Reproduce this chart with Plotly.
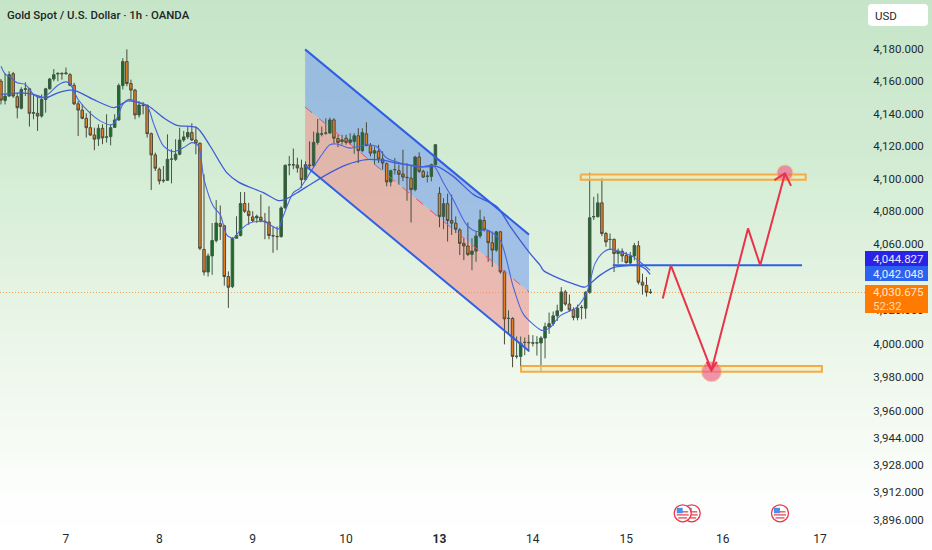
import plotly.graph_objects as go

# ---------- candle data (1h, index = bar number) ----------
open_ = [4160.1,4148.2,4150.9,4164.8,4150.5,4143.3,4155.0,4155.4,4140.2,4140.2,4138.5,4148.8,4155.4,4161.5,4164.6,4165.0,4164.8,4164.2,4157.6,4146.1,
4142.2,4137.1,4131.3,4126.8,4124.4,4130.9,4125.4,4125.8,4131.5,4136.1,4157.4,4172.4,4158.7,4154.6,4139.2,4145.3,4145.1,4127.6,4114.5,4105.7,
4098.5,4098.9,4111.8,4111.8,4114.9,4123.7,4125.6,4128.3,4123.7,4121.7,4056.7,4043.0,4052.8,4062.1,4072.4,4071.1,4040.3,4034.2,4063.5,4065.2,
4084.7,4080.0,4076.5,4075.9,4076.3,4073.9,4073.4,4065.1,4064.6,4064.5,4082.0,4108.3,4108.5,4108.3,4106.4,4099.3,4108.3,4107.9,4122.2,4127.3,
4127.9,4128.0,4136.1,4124.6,4122.8,4124.8,4122.2,4122.8,4126.3,4117.1,4127.5,4120.3,4115.6,4116.7,4112.0,4109.1,4097.9,4105.3,4104.8,4102.8,
4100.7,4100.3,4093.2,4113.2,4104.4,4101.3,4101.3,4108.5,4090.9,4076.8,4084.6,4074.3,4072.7,4068.6,4060.4,4058.8,4053.7,4055.7,4064.9,4074.3,
4068.0,4060.8,4056.3,4067.4,4043.1,4015.0,4015.0,3992.3,3992.3,4000.6,4000.7,4000.2,4000.3,4000.3,4003.3,4009.9,4011.9,4016.6,4019.6,4031.0,
4023.7,4020.2,4015.6,4021.5,4021.2,4030.8,4076.5,4076.6,4085.1,4066.4,4062.7,4062.8,4054.2,4055.6,4053.0,4048.5,4052.8,4058.9,4036.9,4034.9,4030.8]
high = [4161.5,4165.2,4166.3,4165.9,4152.9,4156.4,4159.5,4156.0,4151.9,4150.9,4151.9,4156.0,4162.2,4167.7,4165.7,4165.7,4168.7,4165.2,4159.1,4147.8,
4145.7,4140.2,4141.6,4131.3,4133.4,4133.4,4139.6,4133.4,4139.6,4158.7,4174.5,4180.0,4161.1,4155.4,4147.8,4147.2,4145.7,4128.3,4115.9,4106.7,
4107.7,4127.2,4118.0,4124.2,4131.3,4129.3,4132.0,4134.0,4132.0,4122.1,4102.6,4054.3,4072.8,4086.8,4083.5,4071.7,4043.4,4064.2,4076.9,4091.7,
4091.7,4085.1,4080.0,4077.9,4090.2,4078.9,4083.0,4070.7,4070.7,4083.0,4108.7,4113.9,4118.4,4112.8,4111.6,4110.5,4122.8,4128.9,4136.7,4132.0,
4137.1,4137.5,4137.1,4126.9,4126.9,4126.9,4127.9,4127.9,4131.0,4131.0,4134.7,4121.8,4119.7,4120.8,4116.7,4109.9,4105.4,4112.6,4108.5,4117.7,
4109.5,4108.5,4114.0,4116.1,4105.4,4104.4,4109.1,4121.2,4094.8,4088.0,4090.7,4090.1,4076.8,4069.6,4063.5,4073.1,4063.5,4067.6,4080.9,4076.8,
4068.6,4067.6,4068.0,4068.0,4044.1,4019.9,4015.8,4004.2,4004.2,4003.6,4005.2,4005.0,4004.4,4004.4,4012.5,4018.6,4019.2,4023.3,4033.9,4032.2,
4029.4,4021.7,4023.3,4023.1,4031.4,4103.5,4088.8,4090.8,4100.4,4067.4,4066.4,4063.4,4057.3,4057.3,4055.2,4055.2,4060.7,4061.9,4042.0,4040.0,4032.8]
low = [4145.7,4145.7,4150.5,4149.8,4137.1,4142.6,4150.9,4132.0,4136.5,4129.3,4137.5,4140.6,4155.0,4160.1,4160.1,4161.1,4164.2,4157.0,4145.3,4126.2,
4136.5,4125.2,4126.2,4117.4,4120.0,4121.1,4122.1,4120.4,4131.3,4135.5,4155.0,4157.0,4147.8,4136.5,4137.5,4139.6,4125.2,4092.9,4104.6,4096.4,
4097.4,4098.5,4097.0,4110.8,4114.3,4122.5,4124.2,4123.1,4114.9,4056.3,4040.9,4040.3,4041.3,4060.9,4062.5,4034.8,4021.4,4033.3,4063.5,4064.6,
4078.9,4071.7,4073.2,4072.8,4073.2,4062.9,4062.9,4054.7,4056.3,4063.9,4081.4,4102.0,4105.7,4103.6,4094.2,4098.9,4106.4,4107.1,4120.8,4125.9,
4126.9,4127.5,4121.8,4119.3,4120.8,4120.8,4120.8,4115.2,4109.5,4116.1,4119.7,4113.6,4108.5,4109.5,4105.4,4095.2,4095.2,4102.4,4096.2,4098.3,
4086.4,4073.1,4092.1,4103.4,4100.3,4097.6,4098.3,4107.9,4070.2,4069.0,4061.5,4065.5,4066.6,4053.3,4050.2,4052.7,4044.1,4049.2,4063.5,4067.6,
4049.2,4046.1,4055.3,4042.0,3999.5,4005.2,3985.8,3990.9,3985.8,3993.0,3995.0,3998.2,3992.8,3983.0,3991.1,4005.8,4010.5,4013.5,4019.0,4022.7,
4019.2,4013.9,4013.9,4014.5,4014.9,4029.8,4074.6,4076.2,4064.8,4058.3,4056.3,4043.0,4048.1,4049.1,4048.1,4047.7,4050.1,4035.5,4029.4,4028.2,4029.8]
close = [4148.4,4150.9,4164.2,4150.9,4143.7,4155.0,4155.4,4140.2,4140.6,4138.5,4148.8,4155.4,4161.5,4164.2,4165.0,4164.8,4165.2,4157.6,4146.1,4142.2,
4137.1,4131.3,4126.8,4124.2,4130.9,4125.0,4125.6,4131.3,4136.1,4157.4,4172.4,4158.7,4154.6,4139.2,4145.3,4145.1,4127.6,4114.5,4106.3,4098.5,
4098.9,4111.8,4111.9,4114.9,4123.7,4125.6,4128.3,4123.7,4121.7,4057.4,4043.0,4052.8,4062.1,4072.8,4070.7,4040.3,4033.8,4063.5,4065.2,4084.7,
4080.0,4077.3,4074.2,4076.9,4074.2,4073.6,4065.2,4065.0,4064.5,4082.0,4108.1,4108.5,4108.4,4106.5,4099.3,4108.5,4107.9,4122.2,4127.9,4127.5,
4128.0,4136.1,4124.8,4122.2,4123.8,4122.2,4123.8,4126.3,4117.1,4128.3,4120.3,4115.6,4117.1,4112.0,4109.5,4097.9,4104.8,4105.5,4102.6,4100.9,
4100.6,4093.2,4113.2,4104.4,4100.9,4101.5,4108.5,4120.8,4076.8,4084.6,4074.3,4072.7,4069.0,4060.4,4058.8,4053.7,4055.7,4064.9,4074.7,4068.6,
4060.8,4056.3,4067.4,4043.1,4014.8,4015.1,3992.3,3992.4,4000.1,4000.7,4000.5,4000.4,4000.4,4003.3,4010.1,4011.9,4016.6,4019.6,4031.0,4023.7,
4020.2,4015.6,4021.2,4021.7,4030.8,4076.0,4076.7,4085.1,4066.4,4061.3,4062.8,4054.2,4055.8,4052.8,4048.7,4052.8,4059.1,4036.9,4035.1,4030.8,4030.7]
bars = list(range(len(close)))

# ---------- moving averages ----------
fast_x = [0,1,2,4,6,8,10,12,14,16,17,19,22,24.4,27,28,30,31.4,33,36,37.5,40,42.4,45,47,48.6,50,52.3,54,55.6,57.2,59,61.3,64.6,67,68.3,69.5,72,73.6,
76.1,79,81,82.7,86,90,92.5,95,99,103.2,106.5,109,111.4,114.7,117.2,119.6,122.9,126.2,128.7,132.8,
133.6,135.2,137.7,140.2,141.8,144.3,146.3,148,150,152.5,155.8,157.4,159.9]
fast_y = [4169.4,4164.6,4163.2,4159.1,4158.1,4151.9,4149.8,4152.9,4157.6,4159.7,4158.5,4148.8,4140.2,4135.5,4133.0,4134.4,4145.7,4148.8,4147.8,4144.7,4134.4,4120.0,4116.5,4119.0,4122.1,4120.0,4099.5,4083.0,4077.9,4065.6,4063.5,4068.7,4072.8,4073.8,4070.7,4069.1,4076.9,4091.3,4094.0,
4103.4,4114.6,4120.8,4121.2,4118.7,4120.8,4119.7,4112.6,4109.1,4107.1,4107.9,4097.2,4087.0,4071.7,4067.6,4068.6,4062.5,4033.8,4017.5,4008.3,
4007.8,4009.4,4016.6,4019.6,4021.7,4030.8,4048.1,4054.2,4056.9,4055.2,4052.2,4049.1,4044.0]
slow_x = [0,5,8,11,14,17,18.6,22.7,27.7,28.9,31,33.4,36.3,40,43.3,48.2,51.5,55.6,58.5,64.6,68.3,70,73.6,
76.1,80.2,85.2,90,94.2,98.3,104,107.3,111.4,116.4,122.1,125.4,130.3,
132.8,133.6,137.7,141,143.8,145.5,147.5,150.8,154.9,157,158.6,159.9]
slow_y = [4151.9,4152.9,4151.9,4149.8,4152.9,4154.6,4154.0,4148.8,4143.7,4144.7,4147.8,4147.2,4144.7,4137.5,4132.8,4131.3,4120.0,4103.6,4097.8,4091.3,4086.5,4087.2,4092.3,
4096.2,4102.4,4108.5,4111.6,4111.1,4109.1,4107.1,4107.5,4101.3,4090.1,4082.9,4070.7,4054.3,
4047.1,4044.0,4038.9,4035.9,4033.9,4036.9,4041.0,4045.7,4047.1,4047.1,4045.1,4041.6]

# ---------- drawings ----------
channel_x = [74.9, 130.05]
channel_top = [4180.0, 4065.7]
channel_mid = [4144.1, 4031.0]
channel_bot = [4108.0, 3995.5]
zone_hi_x = [142.8, 198.2]
zone_hi_y = [4102.5, 4099.2]
zone_lo_x = [128.1, 202.2]
zone_lo_y = [3986.5, 3983.2]
level_x = [150.7, 197.3]
level_y = [4047.1, 4047.1]
path_x = [163, 165, 175, 184, 187, 193.1]
path_y = [4027.1, 4047.1, 3984.0, 4069.5, 4047.1, 4103.1]
arrow_top_x = [190.5, 193.1, 194.6]
arrow_top_y = [4099.0, 4103.1, 4095.5]
arrow_bot_x = [173.8, 175, 176.3]
arrow_bot_y = [3989.1, 3984.0, 3989.1]
target_x = [175, 193.1]
target_y = [3983.2, 4103.4]
target_size = [20, 16]

last_price = 4030.675
# ---------- axis labels ----------
y_ticks = [4180,4160,4140,4120,4100,4080,4060,4020,4000,3980,3960,3944,3928,3912,3896]
y_labels = [f"{v:,.3f}" for v in y_ticks]
x_ticks = [16, 39, 62, 85, 108, 131, 154, 177.8, 201.7]
x_labels = ["7", "8", "9", "10", "<b>13</b>", "14", "15", "16", "17"]

W, H = 932, 550
FONT = "Roboto"
INK = "#1f2a2c"
px = lambda x: x / W
py = lambda y: 1 - y / H

fig = go.Figure()
shapes = []

# gradient background
stops = [(0, (198, 229, 200)), (150, (209, 235, 210)), (300, (230, 244, 228)), (400, (242, 249, 240)), (500, (253, 254, 253)), (550, (255, 255, 255))]
def bg(y):
    for (a, ca), (b, cb) in zip(stops, stops[1:]):
        if a <= y <= b:
            t = (y - a) / (b - a)
            return tuple(round(p + (q - p) * t) for p, q in zip(ca, cb))
    return stops[-1][1]
for y in range(0, H, 5):
    c = bg(y + 2.5)
    shapes.append(dict(type="rect", xref="paper", yref="paper", x0=0, x1=1, y0=py(y + 5), y1=py(y), layer="below",
                       fillcolor=f"rgb{c}", line=dict(width=0)))

# channel fills under the candles
def band(x, a, b):
    return f"M{x[0]},{a[0]} L{x[1]},{a[1]} L{x[1]},{b[1]} L{x[0]},{b[0]} Z"
shapes.append(dict(type="path", xref="x", yref="y", layer="below", path=band(channel_x, channel_top, channel_mid),
                   fillcolor="rgba(120,160,235,0.60)", line=dict(width=0)))
shapes.append(dict(type="path", xref="x", yref="y", layer="below", path=band(channel_x, channel_mid, channel_bot),
                   fillcolor="rgba(240,130,130,0.50)", line=dict(width=0)))

# last price dotted line
shapes.append(dict(type="line", xref="paper", yref="y", x0=0, x1=px(868), y0=last_price, y1=last_price, layer="below",
                   line=dict(color="#f5a050", width=1, dash="1px,2px")))

fig.add_trace(go.Candlestick(x=bars, open=open_, high=high, low=low, close=close, whiskerwidth=0,
    increasing=dict(fillcolor="#1c6b2a", line=dict(color="#3f5a45", width=1)),
    decreasing=dict(fillcolor="#e07f26", line=dict(color="#4c4a3c", width=1)),
    hoverinfo="skip", showlegend=False))

def line(x, y, color, width, dash=None, shape=None, fill=None, fillcolor=None):
    fig.add_trace(go.Scatter(x=x, y=y, mode="lines", hoverinfo="skip", showlegend=False, fill=fill, fillcolor=fillcolor,
                             line=dict(color=color, width=width, dash=dash, shape=shape, smoothing=0.8 if shape else None)))

line(slow_x, slow_y, "#3f5bd6", 1.3, shape="spline")
line(fast_x, fast_y, "#4a66de", 1.1, shape="spline")
line(channel_x, channel_top, "#2f5fe6", 2)
line(channel_x, channel_bot, "#2f5fe6", 2)
line(channel_x, channel_mid, "#e8506a", 1, dash="dash")

for zx, zy in [(zone_hi_x, zone_hi_y), (zone_lo_x, zone_lo_y)]:
    line([zx[0], zx[1], zx[1], zx[0], zx[0]], [zy[0], zy[0], zy[1], zy[1], zy[0]], "#f4ab45", 2,
         fill="toself", fillcolor="rgba(250,235,170,0.55)")

line(level_x, level_y, "#2e62e0", 2)
fig.add_trace(go.Scatter(x=target_x, y=target_y, mode="markers", hoverinfo="skip", showlegend=False,
                         marker=dict(size=target_size, color="rgba(238,92,140,0.92)", line=dict(color="#f9c069", width=1))))
line(path_x, path_y, "#e8334a", 2)
line(arrow_top_x, arrow_top_y, "#e8334a", 2)
line(arrow_bot_x, arrow_bot_y, "#e8334a", 2)

# price labels at right (drawn over the axis)
def box(y0, y1, color, x0=865, x1=928):
    shapes.append(dict(type="rect", xref="paper", yref="paper", x0=px(x0), x1=px(x1), y0=py(y1), y1=py(y0), layer="above",
                       fillcolor=color, line=dict(width=0)))
box(251, 266, "#2a22e6")
box(266, 281, "#2b62f0")
box(285, 313, "#ff7a00")
# USD button (rounded)
r, a, b, c, d = 4, px(868), px(928), py(26), py(4)
rx, ry = r / W, r / H
shapes.append(dict(type="path", xref="paper", yref="paper", layer="above", fillcolor="#ffffff", line=dict(width=0),
    path=f"M{a+rx},{d} L{b-rx},{d} Q{b},{d} {b},{d-ry} L{b},{c+ry} Q{b},{c} {b-rx},{c} L{a+rx},{c} Q{a},{c} {a},{c+ry} L{a},{d-ry} Q{a},{d} {a+rx},{d} Z"))

# event flags
event_px = [691.7, 682.7, 780.0]
for cx in event_px:
    cy = 513.3
    R = 8.5
    shapes.append(dict(type="circle", xref="paper", yref="paper", layer="above", x0=px(cx - R), x1=px(cx + R), y0=py(cy + R), y1=py(cy - R),
                       fillcolor="#ffffff", line=dict(color="#e5394a", width=1.3)))
    for dy, half in [(-1.5, 5.5), (1.6, 6), (4.6, 4.5)]:
        shapes.append(dict(type="line", xref="paper", yref="paper", layer="above", x0=px(cx - half), x1=px(cx + half), y0=py(cy + dy), y1=py(cy + dy),
                           line=dict(color="#e5606c", width=1.5)))
    shapes.append(dict(type="rect", xref="paper", yref="paper", layer="above", x0=px(cx - 6), x1=px(cx), y0=py(cy), y1=py(cy - 5.5),
                       fillcolor="#4a90e8", line=dict(width=0)))

def text(x, y, s, color=INK, size=11.5, anchor="left", weight=None):
    fig.add_annotation(xref="paper", yref="paper", x=px(x), y=py(y), text=s, showarrow=False, xanchor=anchor, yanchor="middle",
                       borderpad=0, borderwidth=0,
                       font=dict(family=FONT, size=size, color=color, weight=weight))

text(6.5, 14.5, "Gold Spot / U.S. Dollar · 1h · OANDA", size=11.4, weight=500, color="#1c2526")
text(875, 15.5, "USD", size=11.5)
text(872.5, 258.5, "4,044.827", color="#e8e8ff")
text(872.5, 273.5, "4,042.048", color="#e8eeff")
text(872.5, 291.5, "4,030.675", color="#ffe6cc")
text(872.5, 305.5, "52:32", color="#ffd9b0")

fig.update_layout(
    width=W, height=H, margin=dict(l=0, r=0, t=0, b=0, pad=0), showlegend=False, boxgap=0.12,
    paper_bgcolor="#ffffff", plot_bgcolor="rgba(0,0,0,0)", shapes=shapes,
    font=dict(family=FONT, size=12, color=INK),
    xaxis=dict(domain=[0, 868 / W], range=[-0.25, 213.55], rangeslider=dict(visible=False), showgrid=False, zeroline=False, automargin=False,
               showline=False, tickmode="array", tickvals=x_ticks, ticktext=x_labels, ticks="outside", ticklen=1, tickcolor="rgba(0,0,0,0)",
               tickfont=dict(family=FONT, size=12, color=INK)),
    yaxis=dict(domain=[23 / H, 1], type="log", range=[3.590135, 3.624385], side="right", showgrid=False, zeroline=False, showline=False, automargin=False,
               tickmode="array", tickvals=y_ticks, ticktext=y_labels, ticks="outside", ticklen=2, tickcolor="rgba(0,0,0,0)",
               tickfont=dict(family=FONT, size=11.5, color=INK)),
)
fig.write_html("out.html", config=dict(displayModeBar=False), post_script="document.body.style.margin='0';document.body.style.overflow='hidden';")
